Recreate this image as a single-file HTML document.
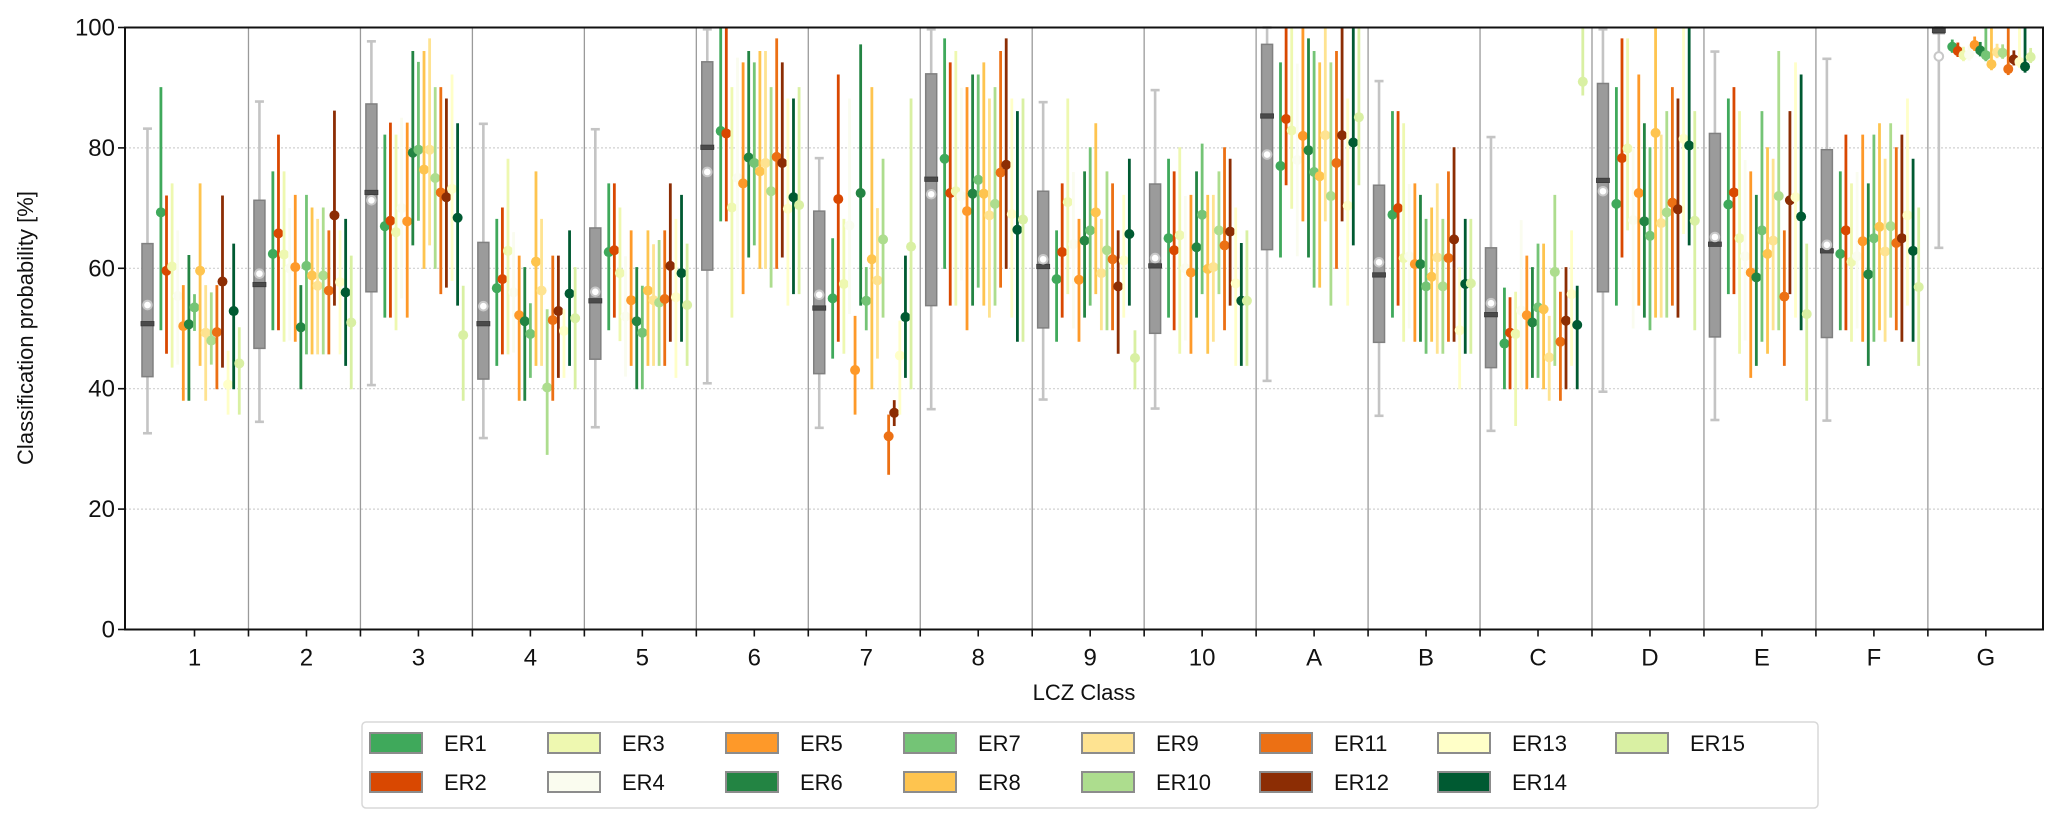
<!DOCTYPE html>
<html><head><meta charset="utf-8">
<style>
html,body{margin:0;padding:0;background:#fff;}
svg{display:block;font-family:"Liberation Sans","DejaVu Sans",sans-serif;}
</style></head>
<body>
<svg id="chart" width="2067" height="827" viewBox="0 0 2067 827" xmlns="http://www.w3.org/2000/svg">
<g id="grid"></g>
<g id="marks"></g>
<g id="axes"></g>
<text x="0" y="0" transform="translate(33,328) rotate(-90)" text-anchor="middle" font-size="22" fill="#111">Classification probability [%]</text>
<text x="1084" y="700" text-anchor="middle" font-size="22" fill="#111">LCZ Class</text>
<g id="legend"></g>
</svg>
<script>
const categories = ["1","2","3","4","5","6","7","8","9","10","A","B","C","D","E","F","G"];
const erNames = ["ER1","ER2","ER3","ER4","ER5","ER6","ER7","ER8","ER9","ER10","ER11","ER12","ER13","ER14","ER15"];
const erColors = ["#3fa95b","#d94801","#eef8b0","#fafcef","#fe9929","#238443","#74c476","#fec44f","#fee391","#addd8e","#ec7014","#8c2d04","#ffffc8","#005a32","#d9f0a3"];
const boxLow   = [32.6,34.5,40.6,31.8,33.6,40.9,33.5,36.6,38.2,36.7,41.3,35.5,33.0,39.5,34.8,34.7,63.4];
const boxQ1    = [42.0,46.7,56.1,41.6,44.9,59.7,42.5,53.8,50.1,49.2,63.1,47.7,43.5,56.1,48.6,48.5,99.0];
const boxMed   = [50.8,57.3,72.6,50.8,54.6,80.1,53.4,74.8,60.3,60.4,85.3,58.9,52.3,74.6,64.0,62.9,99.5];
const boxQ3    = [64.1,71.3,87.3,64.3,66.7,94.3,69.5,92.3,72.8,74.0,97.2,73.8,63.4,90.7,82.4,79.7,100];
const boxHigh  = [83.2,87.7,97.7,84.0,83.1,99.7,78.3,99.7,87.6,89.6,100,91.1,81.8,99.7,96.0,94.8,100];
const boxMean  = [53.9,59.1,71.3,53.7,56.1,76.0,55.6,72.3,61.5,61.7,78.9,61.0,54.2,72.8,65.2,63.9,95.2];
const erMean = [
 [69.3,62.4,67.0,56.7,62.7,82.8,55.0,78.2,58.2,65.0,77.0,68.9,47.5,70.7,70.6,62.4,96.8],
 [59.6,65.8,67.9,58.2,63.0,82.4,71.5,72.5,62.7,63.0,84.8,70.0,49.3,78.3,72.6,66.3,96.1],
 [60.3,62.3,66.0,62.9,59.2,70.1,57.4,72.8,71.0,65.5,82.9,61.7,49.1,79.9,65.0,61.1,95.4],
 [55.4,60.0,70.0,56.0,52.0,75.0,67.1,72.0,64.0,60.0,78.0,62.0,53.0,68.0,62.0,62.0,95.5],
 [50.4,60.2,67.8,52.2,54.7,74.1,43.1,69.5,58.1,59.3,82.0,60.7,52.2,72.5,59.3,64.5,97.1],
 [50.7,50.2,79.2,51.2,51.2,78.4,72.5,72.4,64.6,63.5,79.6,60.7,51.0,67.8,58.5,59.0,96.2],
 [53.5,60.4,79.7,49.1,49.3,77.5,54.6,74.7,66.3,68.9,76.0,57.0,53.5,65.4,66.3,65.0,95.4],
 [59.6,58.8,76.4,61.1,56.3,76.1,61.5,72.4,69.3,59.9,75.3,58.6,53.2,82.5,62.4,66.9,93.9],
 [49.3,57.1,79.7,56.3,54.7,77.5,58.0,68.8,59.2,60.2,82.1,61.8,45.2,67.5,64.6,62.8,95.9],
 [48.0,58.8,75.0,40.2,54.3,72.8,64.8,70.7,63.0,66.3,72.0,57.0,59.4,69.3,72.0,67.0,95.8],
 [49.4,56.3,72.6,51.4,54.9,78.5,32.1,75.9,61.5,63.8,77.5,61.7,47.8,70.9,55.3,64.2,93.1],
 [57.8,68.8,71.8,52.9,60.4,77.5,36.0,77.2,57.0,66.1,82.1,64.8,51.3,69.8,71.3,65.0,94.7],
 [40.7,57.7,73.2,49.6,55.2,69.9,45.5,69.0,61.3,57.5,70.4,49.7,55.7,81.5,71.8,68.8,94.3],
 [52.9,56.0,68.4,55.8,59.2,71.8,51.9,66.4,65.7,54.6,80.9,57.4,50.6,80.4,68.6,62.9,93.5],
 [44.2,51.0,48.9,51.7,53.9,70.5,63.6,68.1,45.1,54.6,85.1,57.5,91.0,67.9,52.4,56.9,95.1]
];
const erLow = [
 [49.7,49.7,51.8,43.8,49.7,67.8,45.0,59.9,47.8,51.8,61.8,51.8,39.9,53.8,55.7,49.7,95.8],
 [45.8,49.7,51.8,45.7,51.8,67.8,47.8,53.8,51.8,49.7,73.8,53.8,39.9,61.8,55.7,49.7,95.1],
 [43.5,47.8,49.7,45.7,47.9,51.8,45.8,53.8,55.7,45.8,69.9,47.8,33.8,66.3,45.8,47.8,94.4],
 [44.0,48.0,55.0,46.0,42.0,60.0,52.4,58.0,50.0,48.0,62.0,50.0,40.0,50.0,48.0,50.0,94.5],
 [38.0,47.8,51.8,38.0,43.8,55.7,35.7,49.7,47.8,45.8,67.8,47.8,39.9,53.8,41.8,47.8,96.1],
 [38.0,39.9,63.8,38.0,39.9,61.8,53.8,53.8,51.8,51.8,61.8,47.8,41.8,51.8,43.8,43.8,95.2],
 [49.6,45.7,67.9,41.8,39.9,63.8,49.7,56.8,53.8,55.7,56.8,45.8,41.8,49.7,47.8,47.8,94.4],
 [43.8,45.7,59.9,43.8,43.8,59.9,39.9,53.8,55.7,45.8,56.8,47.8,39.9,51.8,45.8,49.7,92.9],
 [38.0,45.7,63.8,43.8,43.8,59.9,45.0,51.8,49.7,47.8,67.8,45.8,38.0,51.8,49.7,47.8,94.9],
 [44.0,45.7,59.9,29.0,43.8,56.8,51.8,53.8,49.7,55.7,53.8,45.8,43.8,51.8,49.7,51.8,94.8],
 [39.9,45.7,55.7,38.0,43.8,59.9,25.7,56.8,49.7,49.7,59.9,47.8,38.0,53.8,43.8,49.7,92.1],
 [43.5,53.8,56.8,41.8,47.8,61.8,33.8,59.9,45.8,53.8,67.8,47.8,39.9,51.8,55.7,47.8,93.7],
 [35.7,45.7,57.9,41.8,41.8,53.8,35.7,51.8,51.8,43.8,53.8,39.9,43.8,65.7,51.8,53.8,93.3],
 [39.9,43.8,53.8,43.8,47.8,55.7,41.8,47.8,53.8,43.8,63.8,45.8,39.9,63.8,49.7,47.8,92.5],
 [35.7,39.9,38.0,39.9,43.8,55.7,39.9,47.8,39.9,43.8,73.8,45.8,88.7,49.7,38.0,43.8,94.1]
];
const erHigh = [
 [90.1,76.1,82.2,68.2,74.1,100,65.0,98.2,66.3,78.2,94.2,86.1,56.8,90.1,88.2,76.1,98.0],
 [72.1,82.2,84.2,70.1,74.1,100,92.2,94.2,74.1,76.1,100,86.1,55.2,98.2,90.1,82.2,97.5],
 [74.1,76.1,82.2,78.2,70.1,90.1,68.2,96.1,88.2,80.1,100,84.1,56.1,98.2,86.1,74.1,96.8],
 [66.3,70.0,85.0,66.0,62.0,95.0,88.2,90.0,76.0,72.0,94.0,74.0,68.0,80.0,78.0,76.0,97.0],
 [57.2,72.2,84.2,62.1,66.3,94.2,52.1,90.1,68.2,72.2,100,74.1,62.1,92.2,76.1,82.2,98.5],
 [62.2,57.2,96.1,60.2,60.2,96.1,97.2,92.2,76.1,76.1,98.2,72.2,60.2,84.1,72.2,74.1,97.6],
 [55.7,72.2,94.3,54.2,57.1,94.2,60.2,92.2,80.1,80.7,96.1,68.2,64.1,80.1,86.1,82.2,100],
 [74.1,70.1,96.1,76.1,66.3,96.1,90.1,94.2,84.1,72.2,94.2,70.1,64.1,100,80.1,84.1,100],
 [57.2,68.2,98.2,68.2,64.0,96.1,70.0,88.2,68.2,72.2,100,74.1,52.1,82.2,78.2,78.2,97.3],
 [56.0,70.1,90.1,53.2,64.7,90.1,78.2,90.1,76.1,76.1,94.2,68.2,72.2,86.1,96.1,84.1,97.2],
 [57.2,66.3,90.1,62.1,66.3,98.2,35.7,96.1,74.1,80.1,96.1,76.1,56.1,90.1,66.3,80.1,100],
 [72.1,86.2,88.2,62.1,74.1,94.2,38.1,98.2,66.3,78.2,100,80.1,60.2,88.2,86.1,82.2,96.2],
 [46.3,66.3,92.2,53.2,68.2,88.2,51.3,88.2,72.2,70.1,88.2,60.2,66.3,100,94.2,88.2,100],
 [64.1,68.2,84.1,66.3,72.2,88.2,62.1,86.1,78.2,64.2,100,68.2,57.1,100,92.2,78.2,100],
 [50.2,62.1,57.1,60.2,64.1,90.1,88.2,88.2,49.7,66.3,100,68.2,100,86.1,64.1,70.1,96.6]
];
const yTicks = [0,20,40,60,80,100];

const NS = "http://www.w3.org/2000/svg";
const X0 = 125, X1 = 2043, Y0 = 629.5, Y100 = 27.5;
const C0 = 194.5, CW = 111.96;
function xPos(k){ return C0 + k*CW; }
function yPos(v){ return Y0 - (v/100)*(Y0 - Y100); }
function clampV(v){ return Math.max(0, Math.min(100, v)); }
function mk(tag, attrs, parent){
  const e = document.createElementNS(NS, tag);
  for (const k in attrs) e.setAttribute(k, attrs[k]);
  parent.appendChild(e);
  return e;
}
const grid = document.getElementById('grid');
const marks = document.getElementById('marks');
const axes = document.getElementById('axes');
const legend = document.getElementById('legend');

yTicks.forEach(function(t){
  if (t === 0 || t === 100) return;
  const l = mk('line', {x1:X0, x2:X1, y1:yPos(t), y2:yPos(t), stroke:'#d0d0d0', 'stroke-width':1.2, 'stroke-dasharray':'2,2'}, grid);
  
  
});
for (let k = 0; k < categories.length - 1; k++){
  const x = xPos(k + 0.5) - 2;
  const l = mk('line', {x1:x, x2:x, y1:Y100, y2:Y0, stroke:'#9a9a9a', 'stroke-width':1.3}, grid);
  
  
}

categories.forEach(function(c, k){
  const g = mk('g', {}, marks);
  
  
  const bx = xPos(k - 0.42);
  const lo = yPos(clampV(boxLow[k])), hi = yPos(clampV(boxHigh[k]));
  mk('line', {x1:bx, x2:bx, y1:lo, y2:hi, stroke:'#c4c4c4', 'stroke-width':2.6}, g);
  mk('line', {x1:bx-4.5, x2:bx+4.5, y1:lo, y2:lo, stroke:'#c4c4c4', 'stroke-width':2.6}, g);
  mk('line', {x1:bx-4.5, x2:bx+4.5, y1:hi, y2:hi, stroke:'#c4c4c4', 'stroke-width':2.6}, g);
  const q3 = yPos(clampV(boxQ3[k])), q1 = yPos(clampV(boxQ1[k]));
  mk('rect', {x:bx-5.5, y:q3, width:11, height:Math.max(1.5, q1-q3), fill:'#9b9b9b', stroke:'#808080', 'stroke-width':1.5}, g);
  const m = yPos(clampV(boxMed[k]));
  mk('rect', {x:bx-6.5, y:m-2.2, width:13, height:4.4, fill:'#4a4a4a', stroke:'#3a3a3a', 'stroke-width':0.8}, g);
  mk('circle', {cx:bx, cy:yPos(clampV(boxMean[k])), r:4.3, fill:'#ffffff', stroke:'#c8c8c8', 'stroke-width':2}, g);
});

erNames.forEach(function(name, i){
  const g = mk('g', {}, marks);
  
  
  categories.forEach(function(c, k){
    const x = xPos(k - 0.3 + 0.05*i);
    const lo = yPos(clampV(erLow[i][k])), hi = yPos(clampV(erHigh[i][k]));
    const ln = mk('line', {x1:x, x2:x, y1:lo, y2:hi, stroke:erColors[i], 'stroke-width':2.8}, g);
    
    
    const dt = mk('circle', {cx:x, cy:yPos(clampV(erMean[i][k])), r:5, fill:erColors[i]}, g);
    
    
  });
});

mk('rect', {x:X0, y:Y100, width:X1-X0, height:Y0-Y100, fill:'none', stroke:'#111', 'stroke-width':2}, axes);
yTicks.forEach(function(t){
  const y = yPos(t);
  mk('line', {x1:X0-7, x2:X0, y1:y, y2:y, stroke:'#111', 'stroke-width':1.6}, axes);
  const tx = mk('text', {x:X0-10, y:y+8, 'text-anchor':'end', 'font-size':24, fill:'#111'}, axes);
  tx.textContent = String(t);
  
  
});
categories.forEach(function(c, k){
  const x = xPos(k);
  mk('line', {x1:x, x2:x, y1:Y0, y2:Y0+7, stroke:'#111', 'stroke-width':1.6}, axes);
  if (k < categories.length - 1){
    const xd = xPos(k + 0.5) - 2;
    mk('line', {x1:xd, x2:xd, y1:Y0, y2:Y0+7, stroke:'#111', 'stroke-width':1.6}, axes);
  }
  const tx = mk('text', {x:x, y:Y0+36, 'text-anchor':'middle', 'font-size':24, fill:'#111'}, axes);
  tx.textContent = c;
  
  
});

const lb = mk('rect', {x:362, y:722, width:1456, height:86, rx:4, fill:'#fff', stroke:'#d8d8d8', 'stroke-width':1.5}, legend);


erNames.forEach(function(name, i){
  const col = Math.floor(i/2), row = i % 2;
  const x = 370 + col*178, y = 733 + row*39;
  const g = mk('g', {}, legend);
  
  
  mk('rect', {x:x, y:y, width:52, height:20, fill:erColors[i], stroke:'#8c8c8c', 'stroke-width':2}, g);
  const t = mk('text', {x:x+74, y:y+18, 'font-size':22, fill:'#111'}, g);
  t.textContent = name;
});
</script>
</body></html>
